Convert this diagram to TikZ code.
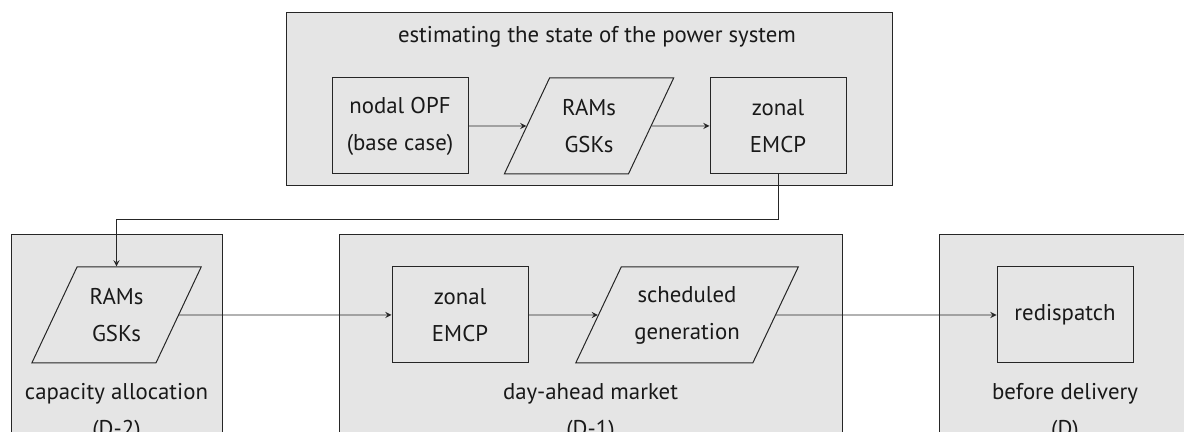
\documentclass[tikz,border=0pt]{standalone}
\usepackage{fontspec}
\setmainfont{PT Sans}
\usetikzlibrary{shapes.geometric}
\tikzset{
    every node/.style={font=\fontsize{11.4}{18.5}\selectfont, text=black!90},
    group/.style={fill=black!10, draw=black!85, line width=0.5pt},
    stagebox/.style={draw=black!85, line width=0.5pt, minimum width=68pt, minimum height=48pt, align=center},
    databox/.style={draw=black!85, line width=0.5pt, trapezium, trapezium left angle=60, trapezium right angle=120, trapezium stretches=true, minimum height=48pt, align=center},
    flow/.style={-stealth, draw=black!85, line width=0.4pt}
}
\begin{document}
\begin{tikzpicture}[x=0.5pt, y=-0.5pt]
    \useasboundingbox (0, 0) rectangle (1184, 432);
    % stage backgrounds
    \filldraw[group] (286, 13) rectangle (892, 186);
    \filldraw[group] (11, 235) rectangle (222, 470);
    \filldraw[group] (339, 235) rectangle (842, 470);
    \filldraw[group] (939, 235) rectangle (1210, 470);
    \node[anchor=base] (estlabel) at (597, 43) {estimating the state of the power system};
    \node[anchor=north, align=center, inner sep=0pt] (caplabel) at (116.5, 383) {capacity allocation\\(D-2)};
    \node[anchor=north, align=center, inner sep=0pt] (dalabel) at (590.5, 383) {day-ahead market\\(D-1)};
    \node[anchor=north, align=center, inner sep=0pt] (bdlabel) at (1065, 383) {before delivery\\(D)};
    % top row
    \node[stagebox] (nodal) at (400, 126) {nodal OPF\\(base case)};
    \node[databox, minimum width=85pt] (ramtop) at (589, 126) {RAMs\\GSKs};
    \node[stagebox] (zonaltop) at (778, 126) {zonal\\EMCP};
    % bottom row
    \node[databox, minimum width=85pt] (rambot) at (116.5, 315) {RAMs\\GSKs};
    \node[stagebox] (zonalbot) at (460, 315) {zonal\\EMCP};
    \node[databox, minimum width=112pt] (sched) at (687, 315) {scheduled\\generation};
    \node[stagebox] (redisp) at (1065, 315) {redispatch};
    % connectors
    \draw[flow] (nodal) -- (ramtop);
    \draw[flow] (ramtop) -- (zonaltop);
    \draw[flow] (zonaltop.south) -- ++(0, 45) -| (rambot.north);
    \draw[flow] (rambot) -- (zonalbot);
    \draw[flow] (zonalbot) -- (sched);
    \draw[flow] (sched) -- (redisp);
\end{tikzpicture}
\end{document}
